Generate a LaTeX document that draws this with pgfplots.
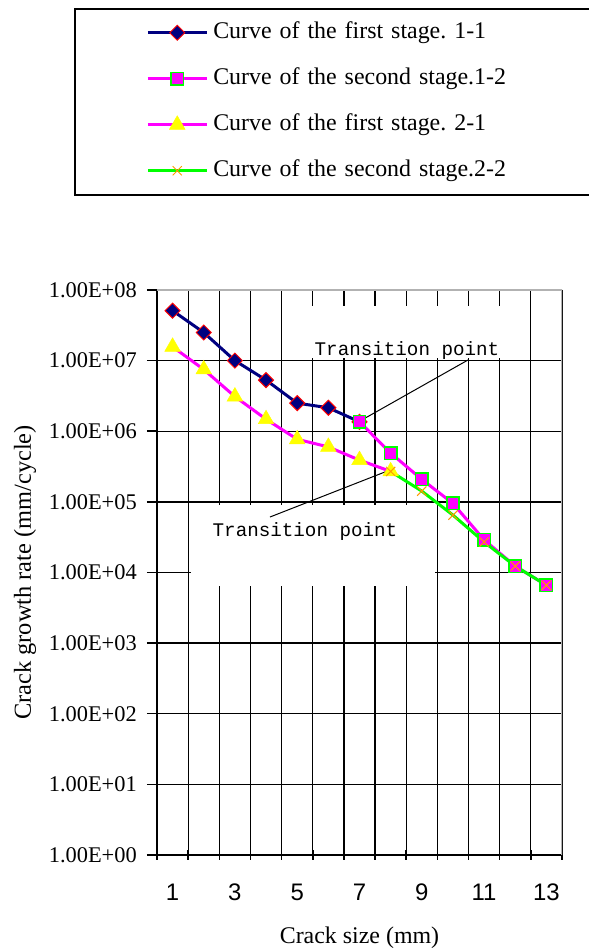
\documentclass[border=0pt]{standalone}
\usepackage{fontspec}
\setmainfont{Liberation Serif}
\newfontfamily\arialfont{Liberation Sans}
\newfontfamily\monofont{Liberation Mono}
\usepackage{pgfplots}
\pgfplotsset{compat=1.18}
\definecolor{navyc}{RGB}{0,0,128}
\definecolor{magc}{RGB}{255,0,255}
\definecolor{grnc}{RGB}{0,255,0}
\definecolor{yelc}{RGB}{255,255,0}
\definecolor{orgc}{RGB}{255,153,0}
\definecolor{redc}{RGB}{255,0,0}
\frenchspacing
\begin{document}
\begin{tikzpicture}
\begin{axis}[
  scale only axis, width=405bp, height=565bp,
  at={(0,0)}, anchor=south west,
  xmin=0.5, xmax=13.5,
  ymode=log, ymin=1, ymax=1e8,
  axis lines=left,
  axis line style={-, line width=1.5bp, black},
  xtick={0.5,1.5,...,13.5}, xticklabels={},
  extra x ticks={1,3,5,7,9,11,13},
  extra x tick labels={1,3,5,7,9,11,13},
  extra x tick style={major tick length=0pt, grid=none,
    tick label style={font=\arialfont\fontsize{24}{28}\selectfont, anchor=center, yshift=-37bp}},
  xtick align=center,
  ytick={1,10,100,1000,10000,100000,1000000,10000000,100000000},
  yticklabels={1.00E+00,1.00E+01,1.00E+02,1.00E+03,1.00E+04,1.00E+05,1.00E+06,1.00E+07,1.00E+08},
  yticklabel style={font=\fontsize{22.5}{27}\selectfont, anchor=east, inner sep=0pt, xshift=-10bp},
  ytick align=outside,
  yminorticks=false,
  major tick length=10bp,
  tick style={line width=1.5bp, black},
  grid=major,
  major grid style={black, line width=1.3bp},
  xlabel={Crack size (mm)},
  ylabel={Crack growth rate (mm/cycle)},
  every axis x label/.style={at={(axis description cs:0.5,-0.1469)}, anchor=center,
    font=\fontsize{24}{28}\selectfont},
  every axis y label/.style={at={(axis description cs:-0.3259,0.5)}, anchor=center, rotate=90,
    font=\fontsize{24.5}{28}\selectfont},
  legend image code/.code={\draw[mark repeat=2,mark phase=2,#1] plot coordinates {(0bp,0bp) (29.5bp,0bp) (59bp,0bp)};},
  legend cell align=left,
  legend style={at={(rel axis cs:-0.2049,1.4991)}, anchor=north west,
    draw=black, line width=1.5bp,
    inner xsep=71.5bp, inner ysep=13bp,
    row sep=24bp, column sep=5bp,
    nodes={inner sep=0pt, text height=17bp, text depth=5bp, text width=305bp, align=left,
      font=\fontsize{24}{28}\selectfont}},
]
% white boxes behind annotation texts
\fill[white] (rel axis cs:0.3136,0.9717) rectangle (rel axis cs:0.916,0.8796);
\fill[white] (rel axis cs:0.0840,0.6195) rectangle (rel axis cs:0.6864,0.4761);

\addplot[navyc, line width=3bp, mark=square*, mark size=5.3bp,
  mark options={rotate=45, fill=navyc, draw=redc, line width=1bp}]
  coordinates {(1,5.1e7) (2,2.5e7) (3,1.0e7) (4,5.3e6) (5,2.5e6) (6,2.15e6) (7,1.36e6)};
\addlegendentry{\mbox{Curve of the first stage. 1-1}}

\addplot[magc, line width=3bp, mark=square*, mark size=6.2bp,
  mark options={fill=magc, draw=grnc, line width=1.5bp}]
  coordinates {(7,1.36e6) (8,4.9e5) (9,2.08e5) (10,9.5e4) (11,2.9e4) (12,1.23e4) (13,6.6e3)};
\addlegendentry{\mbox{Curve of the second stage.1-2}}

\addplot[magc, line width=3bp, mark=triangle*, mark size=9bp,
  mark options={fill=yelc, draw=yelc, line width=0.5bp}]
  coordinates {(1,1.57e7) (2,7.5e6) (3,3.1e6) (4,1.48e6) (5,7.7e5) (6,6.0e5) (7,3.9e5) (8,2.7e5)};
\addlegendentry{\mbox{Curve of the first stage. 2-1}}

\addplot[grnc, line width=3bp, mark=x, mark size=6.5bp,
  mark options={draw=orgc, line width=1bp}]
  coordinates {(8,2.7e5) (9,1.42e5) (10,6.5e4) (11,2.7e4) (12,1.23e4) (13,6.6e3)};
\addlegendentry{\mbox{Curve of the second stage.2-2}}

% annotations
\draw[black, line width=1bp] (rel axis cs:0.7679,0.8761) -- (rel axis cs:0.5012,0.7681);
\draw[black, line width=1bp] (rel axis cs:0.279,0.5982) -- (rel axis cs:0.5753,0.6814);
\node[font=\monofont\fontsize{19.3}{22}\selectfont, inner sep=0pt] at (rel axis cs:0.6173,0.8920) {Transition point};
\node[font=\monofont\fontsize{19.3}{22}\selectfont, inner sep=0pt] at (rel axis cs:0.3654,0.5717) {Transition point};
% grey plot-area border (top and right)
\draw[gray!60, line width=1.5bp] (rel axis cs:0,1) -- (rel axis cs:1,1) -- (rel axis cs:1,0);
\end{axis}
\pgfresetboundingbox
\path (-157bp,-96bp) rectangle (432bp,855bp);
\end{tikzpicture}
\end{document}
